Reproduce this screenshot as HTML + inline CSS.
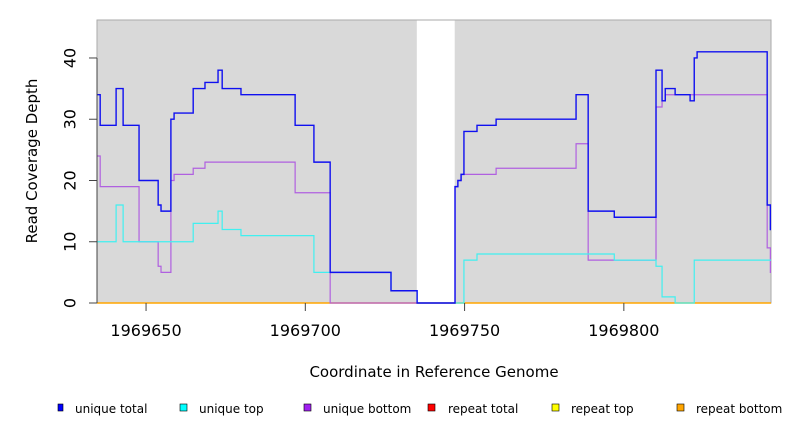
<!DOCTYPE html>
<html><head><meta charset="utf-8"><style>
body{margin:0;background:#fff;}
svg{display:block;font-family:"DejaVu Sans","Liberation Sans",sans-serif;}
</style></head><body>
<svg id="chart" width="792" height="432" xmlns="http://www.w3.org/2000/svg">
<g id="plot"></g>
<g id="axes"></g>
<text x="37" y="161" transform="rotate(-90 37 161)" text-anchor="middle" font-size="15">Read Coverage Depth</text>
<text x="434" y="377" text-anchor="middle" font-size="15">Coordinate in Reference Genome</text>
<g font-size="12" font-family="DejaVu Sans, sans-serif">
<g><rect x="58" y="404" width="5" height="7" fill="#0000ff" stroke="#000" stroke-width="0.6"/><text x="75" y="413">unique total</text></g>
<g><rect x="180" y="404" width="7" height="7" fill="#00ffff" stroke="#000" stroke-width="0.6"/><text x="199" y="413">unique top</text></g>
<g><rect x="304" y="404" width="7" height="7" fill="#a020f0" stroke="#000" stroke-width="0.6"/><text x="323" y="413">unique bottom</text></g>
<g><rect x="428" y="404" width="7" height="7" fill="#ff0000" stroke="#000" stroke-width="0.6"/><text x="448" y="413">repeat total</text></g>
<g><rect x="552" y="404" width="7" height="7" fill="#ffff00" stroke="#000" stroke-width="0.6"/><text x="571" y="413">repeat top</text></g>
<g><rect x="677" y="404" width="7" height="7" fill="#ffa500" stroke="#000" stroke-width="0.6"/><text x="696" y="413">repeat bottom</text></g>
</g>
</svg>
<script>
const xTicks=[1969650,1969700,1969750,1969800];
const yTicks=[0,10,20,30,40];
const covered=[[1969634.6,1969735.0],[1969746.9,1969846.2]];
const totalX=[1969634.6,1969635.6,1969640.6,1969642.8,1969647.8,1969653.8,1969654.7,1969657.8,1969658.8,1969664.8,1969668.5,1969672.6,1969673.9,1969679.8,1969696.8,1969702.7,1969707.8,1969726.9,1969735.1,1969747.0,1969747.9,1969748.9,1969749.8,1969753.9,1969759.9,1969785.0,1969788.8,1969797.0,1969810.1,1969812.0,1969813.0,1969816.1,1969820.8,1969822.1,1969823.0,1969845.0,1969846.0];
const totalY=[34,29,35,29,20,16,15,30,31,35,36,38,35,34,29,23,5,2,0,19,20,21,28,29,30,34,15,14,38,33,35,34,33,40,41,16,12];
const topX=[1969634.6,1969640.6,1969642.8,1969664.8,1969672.6,1969673.9,1969679.8,1969702.7,1969726.9,1969735.1,1969749.8,1969753.9,1969797.0,1969810.1,1969812.0,1969816.1,1969822.1];
const topY=[10,16,10,13,15,12,11,5,2,0,7,8,7,6,1,0,7];
const botX=[1969634.6,1969635.6,1969647.8,1969653.8,1969654.7,1969657.8,1969658.8,1969664.8,1969668.5,1969696.8,1969707.8,1969747.0,1969747.9,1969748.9,1969759.9,1969785.0,1969788.8,1969810.1,1969812.0,1969813.0,1969845.0,1969846.0];
const botY=[24,19,10,6,5,20,21,22,23,18,0,19,20,21,22,26,7,32,33,34,9,5];
const xMin=1969634.6,xMax=1969846.2,yMax=46.2;
const L=97,R=771,T=20,B=303;
const sx=v=>L+(v-xMin)/(xMax-xMin)*(R-L);
const sy=v=>B-v/yMax*(B-T);
const NS="http://www.w3.org/2000/svg";
const plot=document.getElementById('plot'),axes=document.getElementById('axes');
function mk(tag,attrs,parent){const e=document.createElementNS(NS,tag);for(const k in attrs)e.setAttribute(k,attrs[k]);parent.appendChild(e);return e;}
covered.forEach(c=>{
  const r=mk('rect',{x:sx(c[0]),y:T,width:sx(c[1])-sx(c[0]),height:B-T,fill:'#d9d9d9'},plot);
  
  
});
const fr=mk('rect',{x:L,y:T,width:R-L,height:B-T,fill:'none',stroke:'#aaa','stroke-width':1},plot);


function stepPath(xs,ys,end){let d='';for(let i=0;i<xs.length;i++){const x=sx(xs[i]),y=sy(ys[i]);d+=(i?'L'+x+' '+sy(ys[i-1])+' ':'M'+x+' '+y+' ')+'L'+x+' '+y+' ';const nx=i+1<xs.length?sx(xs[i+1]):sx(end);d+='L'+nx+' '+y+' ';}return d;}
const zero=mk('line',{x1:L,x2:R,y1:sy(0),y2:sy(0),stroke:'#ffa500','stroke-width':1.5},plot);


const pb=mk('path',{d:stepPath(botX,botY,xMax),fill:'none',stroke:'#b060e0','stroke-width':1.2},plot);


const pt=mk('path',{d:stepPath(topX,topY,xMax),fill:'none',stroke:'#40f0f0','stroke-width':1.2},plot);


const pT=mk('path',{d:stepPath(totalX,totalY,xMax),fill:'none',stroke:'#1010f0','stroke-width':1.4},plot);


mk('line',{x1:L,x2:L,y1:sy(0),y2:sy(40),stroke:'#444'},axes);
yTicks.forEach(v=>{
  mk('line',{x1:L-8,x2:L,y1:sy(v),y2:sy(v),stroke:'#444'},axes);
  const t=mk('text',{x:71,y:sy(v),'text-anchor':'middle','font-size':16,transform:'rotate(-90 71 '+sy(v)+')','dominant-baseline':'middle'},axes);
  t.textContent=v;
  
  
});
xTicks.forEach(v=>{
  mk('line',{x1:sx(v),x2:sx(v),y1:B,y2:B+8,stroke:'#444'},axes);
  const t=mk('text',{x:sx(v),y:B+33,'text-anchor':'middle','font-size':16},axes);
  t.textContent=v;
  
  
});
</script>
</body></html>
